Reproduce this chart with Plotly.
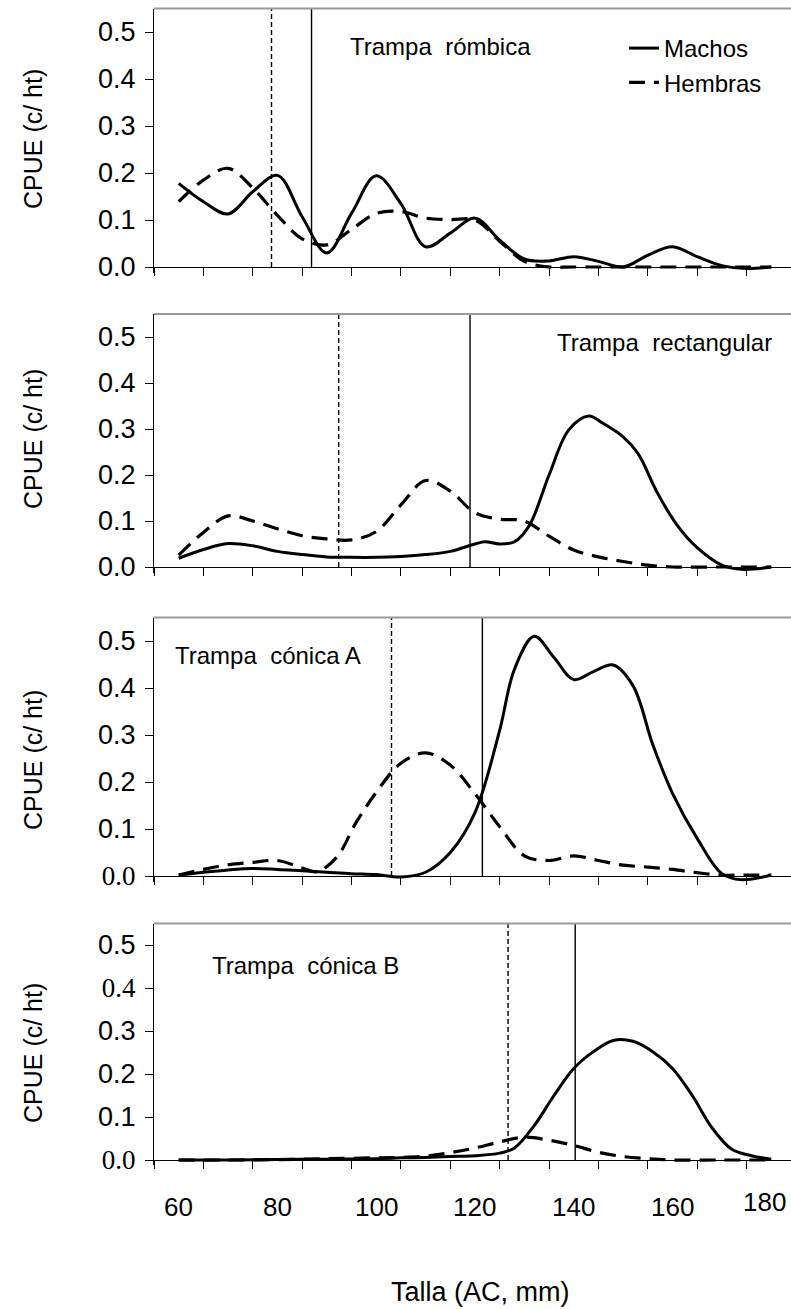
import plotly.graph_objects as go

# ---------------- data ----------------
# Panel 1: Trampa rómbica
x_p1_m = [60, 65, 70, 75, 80, 85, 90, 95, 100, 105, 110, 115, 120, 125, 130, 135, 140, 145, 150, 155, 160, 165, 170, 175, 180]
y_p1_m = [0.178, 0.139, 0.113, 0.160, 0.195, 0.107, 0.030, 0.114, 0.194, 0.135, 0.043, 0.072, 0.104, 0.057, 0.017, 0.013, 0.022, 0.012, 0.0, 0.025, 0.043, 0.022, 0.003, -0.003, 0.0]
x_p1_h = [60, 65, 70, 75, 80, 85, 90, 95, 100, 105, 110, 115, 120, 125, 130, 135, 140, 150, 160, 170, 180]
y_p1_h = [0.139, 0.185, 0.210, 0.168, 0.110, 0.060, 0.047, 0.080, 0.114, 0.118, 0.104, 0.101, 0.100, 0.055, 0.012, 0.0, 0.0, 0.0, 0.0, 0.0, 0.0]

# Panel 2: Trampa rectangular
x_p2_m = [60, 65, 70, 75, 80, 85, 90, 95, 100, 105, 110, 115, 120, 122, 125, 128, 131, 135, 139, 143, 146, 150, 153, 157, 161, 165, 170, 174, 180]
y_p2_m = [0.019, 0.038, 0.051, 0.046, 0.034, 0.027, 0.022, 0.021, 0.021, 0.023, 0.027, 0.034, 0.050, 0.055, 0.050, 0.055, 0.090, 0.200, 0.298, 0.328, 0.312, 0.283, 0.247, 0.160, 0.090, 0.042, 0.004, -0.005, 0.0]
x_p2_h = [60, 65, 70, 75, 80, 85, 90, 95, 100, 105, 110, 115, 120, 125, 130, 135, 140, 145, 150, 155, 160, 170, 180]
y_p2_h = [0.026, 0.075, 0.111, 0.100, 0.083, 0.068, 0.061, 0.059, 0.077, 0.135, 0.188, 0.165, 0.118, 0.104, 0.100, 0.067, 0.037, 0.022, 0.012, 0.004, 0.0, 0.0, 0.0]

# Panel 3: Trampa cónica A
x_p3_m = [60, 65, 70, 75, 80, 85, 90, 95, 100, 105, 110, 115, 120, 125, 128, 132, 136, 140, 144, 148, 152, 156, 160, 165, 170, 174, 180]
y_p3_m = [0.002, 0.008, 0.013, 0.016, 0.014, 0.011, 0.008, 0.005, 0.003, -0.002, 0.008, 0.050, 0.135, 0.310, 0.440, 0.510, 0.465, 0.418, 0.435, 0.449, 0.405, 0.280, 0.176, 0.080, 0.005, -0.008, 0.002]
x_p3_h = [60, 65, 70, 75, 80, 85, 88, 92, 96, 100, 105, 110, 115, 120, 125, 130, 135, 140, 145, 150, 155, 160, 165, 170, 175, 180]
y_p3_h = [0.002, 0.014, 0.024, 0.029, 0.033, 0.017, 0.009, 0.040, 0.115, 0.178, 0.240, 0.262, 0.236, 0.175, 0.105, 0.043, 0.033, 0.043, 0.033, 0.023, 0.019, 0.014, 0.007, 0.002, 0.002, 0.002]

# Panel 4: Trampa cónica B
x_p4_m = [60, 70, 80, 90, 100, 105, 110, 115, 120, 125, 128, 132, 136, 140, 144, 148, 152, 156, 160, 164, 168, 172, 176, 180]
y_p4_m = [0.0, 0.0, 0.001, 0.002, 0.003, 0.005, 0.006, 0.008, 0.010, 0.016, 0.028, 0.080, 0.150, 0.213, 0.252, 0.278, 0.276, 0.252, 0.213, 0.150, 0.075, 0.025, 0.010, 0.002]
x_p4_h = [60, 70, 80, 90, 100, 105, 110, 115, 120, 125, 130, 135, 140, 145, 150, 155, 160, 170, 180]
y_p4_h = [0.0, 0.0, 0.001, 0.003, 0.005, 0.006, 0.009, 0.017, 0.028, 0.042, 0.053, 0.046, 0.034, 0.018, 0.008, 0.003, 0.0, 0.0, 0.0]

panel_names = ["Trampa  rómbica", "Trampa  rectangular", "Trampa  cónica A", "Trampa  cónica B"]
l50_machos = [86.9, 119.0, 121.5, 140.3]
l50_hembras = [78.8, 92.4, 103.1, 126.7]

x_tick_labels = [60, 80, 100, 120, 140, 160, 180]
y_tick_vals = [0.0, 0.1, 0.2, 0.3, 0.4, 0.5]

machos = [(x_p1_m, y_p1_m), (x_p2_m, y_p2_m), (x_p3_m, y_p3_m), (x_p4_m, y_p4_m)]
hembras = [(x_p1_h, y_p1_h), (x_p2_h, y_p2_h), (x_p3_h, y_p3_h), (x_p4_h, y_p4_h)]

# ---------------- layout geometry ----------------
W, H = 791, 1309
FONT = "Liberation Sans, Arial, sans-serif"
YMIN, YMAX = -0.012, 0.55
XMIN, XMAX = 55, 184
x_dom = [154 / W, 1.0]
zero_px = [267, 567, 876, 1160]
ppu = [470, 460, 470, 430]
label_y_px = [139, 439, 760, 1053]
name_pos = [(348, 47), (555, 342), (173, 655), (210, 965)]

def serif(t):
    return "<span style='font-family:Liberation Serif'>" + t + "</span>"

tick_text_sets = [
    ["0.0", "0.1", "0.2", "0.3", "0.4", "0.5"],
    ["0.0", "0.1", "0.2", "0.3", "0.4", "0.5"],
    [serif("0.0"), "0.1", "0.2", "0.3", "0.4", "0.5"],
    [serif("0.0"), "0.1", "0.2", "0.3", serif("0.4"), "0.5"],
]

fig = go.Figure()
layout = dict(
    width=W, height=H,
    margin=dict(l=0, r=0, t=0, b=0, autoexpand=False),
    paper_bgcolor="white", plot_bgcolor="white",
    font=dict(family=FONT, size=24, color="black"),
    showlegend=True,
    legend=dict(x=624 / W, y=1 - 26 / H, xanchor="left", yanchor="top",
                bgcolor="rgba(0,0,0,0)", font=dict(size=24, family=FONT),
                itemwidth=30, tracegroupgap=0),
)
shapes = []
annotations = []

for i in range(4):
    n = i + 1
    xa = "x" if n == 1 else f"x{n}"
    ya = "y" if n == 1 else f"y{n}"
    top_px = zero_px[i] - YMAX * ppu[i]
    bot_px = zero_px[i] - YMIN * ppu[i]
    ydom = [1 - bot_px / H, 1 - top_px / H]
    zero_paper = 1 - zero_px[i] / H

    layout[f"xaxis{n if n > 1 else ''}"] = dict(
        domain=x_dom, range=[XMIN, XMAX], anchor="free", position=zero_paper,
        tickvals=list(range(55, 180, 10)), showticklabels=False,
        ticks="outside", ticklen=8, tickwidth=1, tickcolor="black",
        showline=True, linecolor="black", linewidth=1,
        showgrid=False, zeroline=False, automargin=False, fixedrange=True,
    )
    layout[f"yaxis{n if n > 1 else ''}"] = dict(
        domain=ydom, range=[YMIN, YMAX], anchor=xa,
        tickvals=y_tick_vals, ticktext=tick_text_sets[i],
        ticks="outside", ticklen=8, tickwidth=1, tickcolor="black",
        tickfont=dict(size=27, family=FONT, color="black"),
        ticklabelstandoff=4,
        showline=True, linecolor="black", linewidth=1,
        showgrid=False, zeroline=False, automargin=False, fixedrange=True,
    )

    xm, ym = machos[i]
    xh, yh = hembras[i]
    fig.add_trace(go.Scatter(x=xm, y=ym, mode="lines", name="Machos",
                             line=dict(color="black", width=3, shape="spline", smoothing=1.0),
                             xaxis=xa, yaxis=ya, showlegend=(i == 0), legendgroup="m"))
    fig.add_trace(go.Scatter(x=xh, y=yh, mode="lines", name="Hembras",
                             line=dict(color="black", width=3.2, shape="spline", smoothing=1.0,
                                       dash="16px,9px"),
                             xaxis=xa, yaxis=ya, showlegend=(i == 0), legendgroup="h"))

    shapes.append(dict(type="line", xref=xa, yref=ya, x0=l50_machos[i], x1=l50_machos[i],
                       y0=0, y1=YMAX, line=dict(color="black", width=1.4)))
    shapes.append(dict(type="line", xref=xa, yref=ya, x0=l50_hembras[i], x1=l50_hembras[i],
                       y0=0, y1=YMAX, line=dict(color="black", width=1.4, dash="5px,3px")))
    shapes.append(dict(type="line", xref=f"{xa} domain", yref=f"{ya} domain", x0=0, x1=1,
                       y0=1, y1=1, line=dict(color="#9a9a9a", width=2)))

    annotations.append(dict(text="CPUE (c/ ht)", xref="paper", yref="paper",
                            x=33 / W, y=1 - label_y_px[i] / H, xanchor="center", yanchor="middle",
                            textangle=-90, showarrow=False, font=dict(size=25, family=FONT)))
    px, py = name_pos[i]
    annotations.append(dict(text=panel_names[i], xref="paper", yref="paper",
                            x=px / W, y=1 - py / H, xanchor="left", yanchor="middle",
                            showarrow=False, font=dict(size=24, family=FONT)))

for v in x_tick_labels:
    annotations.append(dict(text=str(v), xref="x4", yref="paper", x=v, y=1 - 1207 / H,
                            xanchor="center", yanchor="middle", showarrow=False,
                            xshift=(-7 if v == 180 else 0), yshift=(5 if v == 180 else 0),
                            font=dict(size=26, family=FONT)))

annotations.append(dict(text="Talla (AC, mm)", xref="paper", yref="paper",
                        x=481 / W, y=1 - 1292 / H, xanchor="center", yanchor="middle",
                        showarrow=False, font=dict(size=27, family=FONT)))

layout["shapes"] = shapes
layout["annotations"] = annotations
fig.update_layout(**layout)
# remove the default page margin so the figure sits at the window's top-left corner
fig.write_html("out.html", config={"displayModeBar": False, "staticPlot": True},
               post_script="document.body.style.margin='0';document.body.style.overflow='hidden';")
